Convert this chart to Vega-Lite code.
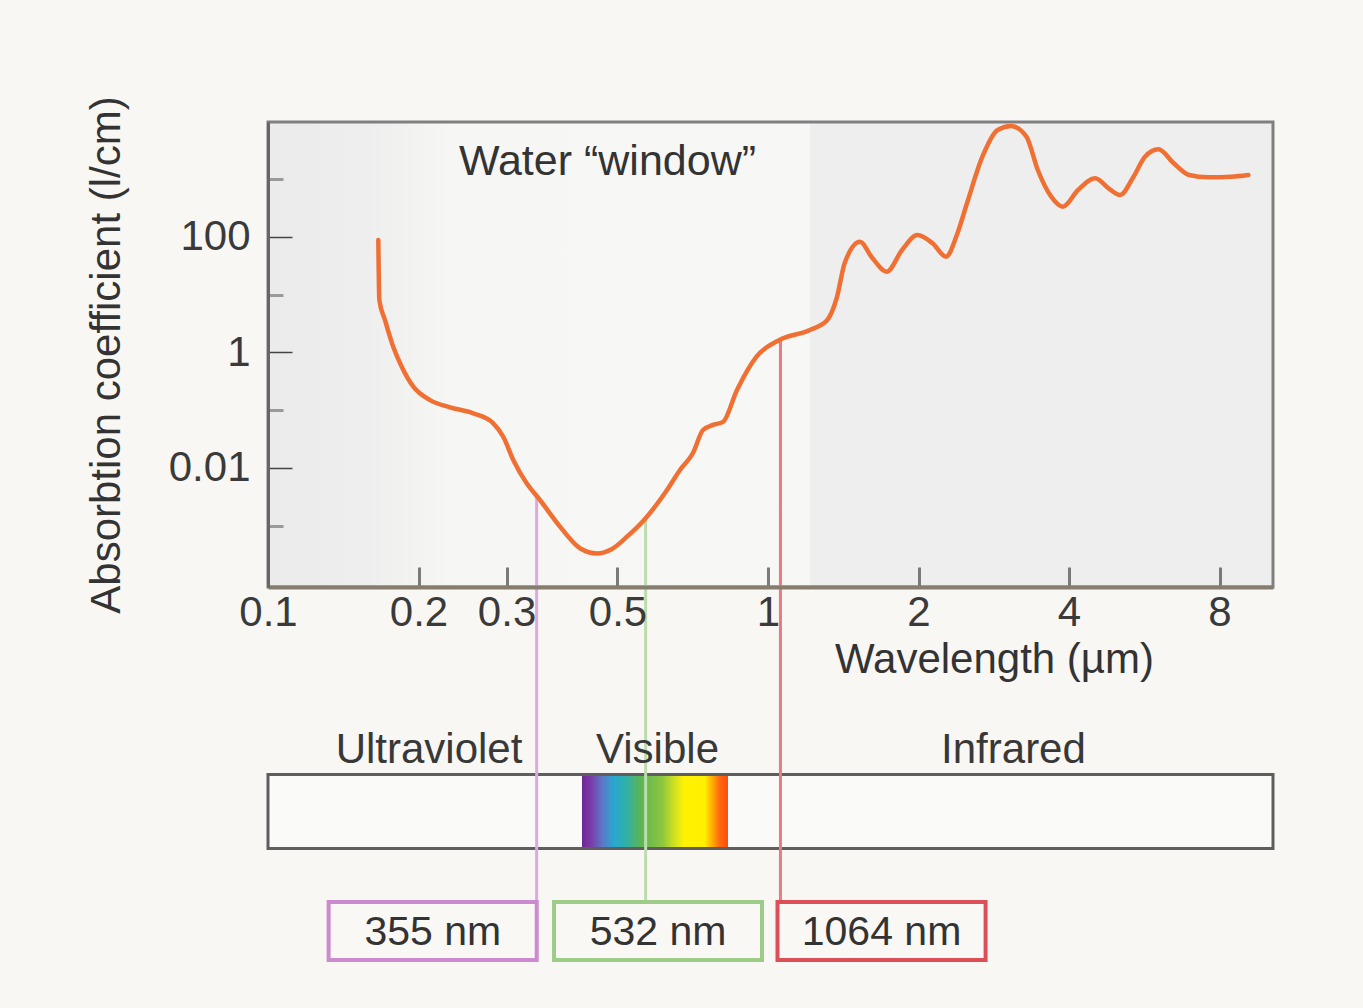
{
  "$schema": "https://vega.github.io/schema/vega-lite/v6.json",
  "width": 1005,
  "height": 465,
  "autosize": "none",
  "padding": {"left": 268, "top": 122, "right": 90, "bottom": 421},
  "background": "#f9f7f3",
  "view": {"fill": "#eeeeef", "stroke": null},
  "config": {"font": "Liberation Sans"},
  "datasets": {
    "absorption": [
      {"wavelength": 0.1662, "coefficient": 88.8},
      {"wavelength": 0.1670, "coefficient": 8.11},
      {"wavelength": 0.1714, "coefficient": 3.65},
      {"wavelength": 0.1780, "coefficient": 1.26},
      {"wavelength": 0.1851, "coefficient": 0.568},
      {"wavelength": 0.1953, "coefficient": 0.256},
      {"wavelength": 0.2109, "coefficient": 0.150},
      {"wavelength": 0.2312, "coefficient": 0.1125},
      {"wavelength": 0.2574, "coefficient": 0.0885},
      {"wavelength": 0.2822, "coefficient": 0.0594},
      {"wavelength": 0.2955, "coefficient": 0.0348},
      {"wavelength": 0.3094, "coefficient": 0.01376},
      {"wavelength": 0.3291, "coefficient": 0.00543},
      {"wavelength": 0.3499, "coefficient": 0.00279},
      {"wavelength": 0.3837, "coefficient": 0.000964},
      {"wavelength": 0.4207, "coefficient": 0.000407},
      {"wavelength": 0.4550, "coefficient": 0.000331},
      {"wavelength": 0.4875, "coefficient": 0.000396},
      {"wavelength": 0.5224, "coefficient": 0.000646},
      {"wavelength": 0.5675, "coefficient": 0.00131},
      {"wavelength": 0.6281, "coefficient": 0.00416},
      {"wavelength": 0.6668, "coefficient": 0.00923},
      {"wavelength": 0.7079, "coefficient": 0.0182},
      {"wavelength": 0.7413, "coefficient": 0.0455},
      {"wavelength": 0.7762, "coefficient": 0.0556},
      {"wavelength": 0.8128, "coefficient": 0.0627},
      {"wavelength": 0.8670, "coefficient": 0.224},
      {"wavelength": 0.9484, "coefficient": 0.846},
      {"wavelength": 1.054, "coefficient": 1.646},
      {"wavelength": 1.213, "coefficient": 2.45},
      {"wavelength": 1.314, "coefficient": 3.65},
      {"wavelength": 1.374, "coefficient": 9.14},
      {"wavelength": 1.423, "coefficient": 35.0},
      {"wavelength": 1.528, "coefficient": 82.9},
      {"wavelength": 1.610, "coefficient": 45.6},
      {"wavelength": 1.728, "coefficient": 25.1},
      {"wavelength": 1.854, "coefficient": 59.6},
      {"wavelength": 1.989, "coefficient": 108},
      {"wavelength": 2.134, "coefficient": 77.8},
      {"wavelength": 2.270, "coefficient": 45.6},
      {"wavelength": 2.393, "coefficient": 116},
      {"wavelength": 2.500, "coefficient": 383},
      {"wavelength": 2.684, "coefficient": 2456},
      {"wavelength": 2.879, "coefficient": 7127},
      {"wavelength": 3.062, "coefficient": 8360},
      {"wavelength": 3.287, "coefficient": 5458},
      {"wavelength": 3.464, "coefficient": 1445},
      {"wavelength": 3.685, "coefficient": 499},
      {"wavelength": 3.886, "coefficient": 335},
      {"wavelength": 4.169, "coefficient": 651},
      {"wavelength": 4.512, "coefficient": 1038},
      {"wavelength": 4.799, "coefficient": 697},
      {"wavelength": 5.061, "coefficient": 533},
      {"wavelength": 5.383, "coefficient": 1107},
      {"wavelength": 5.675, "coefficient": 2456},
      {"wavelength": 6.037, "coefficient": 3300},
      {"wavelength": 6.478, "coefficient": 1889},
      {"wavelength": 6.950, "coefficient": 1185},
      {"wavelength": 7.591, "coefficient": 1081},
      {"wavelength": 8.438, "coefficient": 1107},
      {"wavelength": 9.134, "coefficient": 1185}
    ],
    "lasers": [
      {"label": "355 nm", "line": 0.3446, "top": 0.0033, "from": 0.1322, "to": 0.3447, "center": 0.2136},
      {"label": "532 nm", "line": 0.5692, "top": 0.00134, "from": 0.3733, "to": 0.9727, "center": 0.6026},
      {"label": "1064 nm", "line": 1.059, "top": 1.66, "from": 1.0447, "to": 2.724, "center": 1.6866}
    ],
    "bands": [
      {"band": "Ultraviolet", "center": 0.2099},
      {"band": "Visible", "center": 0.6012},
      {"band": "Infrared", "center": 3.097}
    ]
  },
  "layer": [
    {
      "data": {"values": [{}]},
      "mark": {"type": "rect", "fill": {"gradient": "linear", "x1": 0, "y1": 0, "x2": 1, "y2": 0, "stops": [
        {"offset": 0, "color": "#ebebec"},
        {"offset": 0.18, "color": "#eeeeee"},
        {"offset": 0.34, "color": "#f6f6f4"},
        {"offset": 1, "color": "#f7f7f5"}]}},
      "encoding": {
        "x": {"datum": 0.1, "type": "quantitative", "scale": {"type": "log", "domain": [0.1, 10.233], "nice": false}, "axis": null},
        "x2": {"datum": 1.213},
        "y": {"datum": 0.0000869, "type": "quantitative", "scale": {"type": "log", "domain": [0.0000869, 9795], "nice": false},
          "axis": {"orient": "left", "values": [1000, 10, 0.1, 0.001], "tickSize": -15, "tickWidth": 3, "tickColor": "#9a9a9a", "labels": false, "domain": false, "title": null, "grid": false, "zindex": 1}},
        "y2": {"datum": 9795}
      }
    },
    {
      "data": {"values": [{}]},
      "mark": {"type": "rect", "filled": false, "stroke": "#808080", "strokeWidth": 3},
      "encoding": {
        "x": {"datum": 0.1, "type": "quantitative", "scale": {"type": "log", "domain": [0.1, 10.233], "nice": false}, "axis": null},
        "x2": {"datum": 10.233},
        "y": {"datum": 0.0000869, "type": "quantitative", "scale": {"type": "log", "domain": [0.0000869, 9795], "nice": false}, "axis": null},
        "y2": {"datum": 9795}
      }
    },
    {
      "data": {"values": [{}]},
      "mark": {"type": "rect", "fill": "#fafaf9"},
      "encoding": {
        "x": {"datum": 0.1, "type": "quantitative", "scale": {"type": "log", "domain": [0.1, 10.233], "nice": false}, "axis": null},
        "x2": {"datum": 10.233},
        "y": {"datum": 4.93e-8, "type": "quantitative", "scale": {"type": "log", "domain": [0.0000869, 9795], "nice": false}, "axis": null},
        "y2": {"datum": 2.58e-9}
      }
    },
    {
      "data": {"values": [{}]},
      "mark": {"type": "rect", "fill": {"gradient": "linear", "x1": 0, "y1": 0, "x2": 1, "y2": 0, "stops": [
        {"offset": 0, "color": "#6f2896"},
        {"offset": 0.06, "color": "#7b3aa8"},
        {"offset": 0.14, "color": "#5a78c8"},
        {"offset": 0.22, "color": "#28a8d0"},
        {"offset": 0.3, "color": "#2eb0a8"},
        {"offset": 0.4, "color": "#5cb455"},
        {"offset": 0.55, "color": "#8cc63e"},
        {"offset": 0.64, "color": "#d6e21e"},
        {"offset": 0.7, "color": "#fff200"},
        {"offset": 0.84, "color": "#fff000"},
        {"offset": 0.89, "color": "#ffb000"},
        {"offset": 0.94, "color": "#ff6a10"},
        {"offset": 1, "color": "#ff4a10"}]}},
      "encoding": {
        "x": {"datum": 0.4246, "type": "quantitative", "scale": {"type": "log", "domain": [0.1, 10.233], "nice": false}, "axis": null},
        "x2": {"datum": 0.8318},
        "y": {"datum": 4.93e-8, "type": "quantitative", "scale": {"type": "log", "domain": [0.0000869, 9795], "nice": false}, "axis": null},
        "y2": {"datum": 2.58e-9}
      }
    },
    {
      "data": {"values": [{}]},
      "mark": {"type": "rect", "filled": false, "stroke": "#5e5e5e", "strokeWidth": 3},
      "encoding": {
        "x": {"datum": 0.1, "type": "quantitative", "scale": {"type": "log", "domain": [0.1, 10.233], "nice": false}, "axis": null},
        "x2": {"datum": 10.233},
        "y": {"datum": 4.93e-8, "type": "quantitative", "scale": {"type": "log", "domain": [0.0000869, 9795], "nice": false}, "axis": null},
        "y2": {"datum": 2.58e-9}
      }
    },
    {
      "data": {"name": "lasers"},
      "mark": {"type": "rule", "strokeWidth": 3},
      "encoding": {
        "x": {"field": "line", "type": "quantitative", "scale": {"type": "log", "domain": [0.1, 10.233], "nice": false}, "axis": null},
        "y": {"field": "top", "type": "quantitative", "scale": {"type": "log", "domain": [0.0000869, 9795], "nice": false}, "axis": null},
        "y2": {"datum": 3.05e-10},
        "color": {"field": "label", "type": "nominal", "scale": {"domain": ["355 nm", "532 nm", "1064 nm"], "range": ["#dba9dc", "#bddcae", "#e67c81"]}, "legend": null}
      }
    },
    {
      "data": {"name": "absorption"},
      "mark": {"type": "line", "color": "#ef7032", "strokeWidth": 4.5, "interpolate": "monotone", "strokeCap": "round"},
      "encoding": {
        "x": {"field": "wavelength", "type": "quantitative", "scale": {"type": "log", "domain": [0.1, 10.233], "nice": false},
          "axis": {"values": [0.1, 0.2, 0.3, 0.5, 1, 2, 4, 8], "format": "~g", "tickSize": -20, "tickWidth": 3, "tickColor": "#7a7a7a",
            "labelPadding": 25, "labelFontSize": 42, "labelColor": "#3a3a3a", "labelFlush": false, "labelOverlap": false,
            "domainColor": "#857d6e", "domainWidth": 4, "grid": false, "zindex": 1,
            "title": "Wavelength (µm)", "titleFontSize": 42, "titleFontWeight": "normal", "titleColor": "#333333", "titleX": 726, "titleY": 52}},
        "y": {"field": "coefficient", "type": "quantitative", "scale": {"type": "log", "domain": [0.0000869, 9795], "nice": false},
          "axis": {"orient": "left", "values": [100, 1, 0.01], "format": "~g", "tickSize": -24, "tickWidth": 1.5, "tickColor": "#444444",
            "labelPadding": 42, "labelFontSize": 42, "labelColor": "#3a3a3a", "domainColor": "#666666", "domainWidth": 3, "grid": false, "zindex": 1,
            "title": "Absorbtion coefficient (l/cm)", "titleFontSize": 42, "titleFontWeight": "normal", "titleColor": "#333333", "titlePadding": 40}}
      }
    },
    {
      "data": {"values": [{}]},
      "mark": {"type": "text", "text": "Water “window”", "fontSize": 43, "color": "#333333", "baseline": "alphabetic"},
      "encoding": {
        "x": {"datum": 0.4775, "type": "quantitative", "scale": {"type": "log", "domain": [0.1, 10.233], "nice": false}, "axis": null},
        "y": {"datum": 1185, "type": "quantitative", "scale": {"type": "log", "domain": [0.0000869, 9795], "nice": false}, "axis": null}
      }
    },
    {
      "data": {"name": "bands"},
      "mark": {"type": "text", "fontSize": 42, "color": "#383838", "baseline": "alphabetic"},
      "encoding": {
        "x": {"field": "center", "type": "quantitative", "scale": {"type": "log", "domain": [0.1, 10.233], "nice": false}, "axis": null},
        "y": {"datum": 7.8e-8, "type": "quantitative", "scale": {"type": "log", "domain": [0.0000869, 9795], "nice": false}, "axis": null},
        "text": {"field": "band"}
      }
    },
    {
      "data": {"name": "lasers"},
      "mark": {"type": "rect", "fill": "#faf8f5", "strokeWidth": 4},
      "encoding": {
        "x": {"field": "from", "type": "quantitative", "scale": {"type": "log", "domain": [0.1, 10.233], "nice": false}, "axis": null},
        "x2": {"field": "to"},
        "y": {"datum": 3.05e-10, "type": "quantitative", "scale": {"type": "log", "domain": [0.0000869, 9795], "nice": false}, "axis": null},
        "y2": {"datum": 3.02e-11},
        "stroke": {"field": "label", "type": "nominal", "scale": {"domain": ["355 nm", "532 nm", "1064 nm"], "range": ["#cd8bcf", "#9dcc89", "#de4e57"]}, "legend": null}
      }
    },
    {
      "data": {"name": "lasers"},
      "mark": {"type": "text", "fontSize": 41, "color": "#333333", "baseline": "alphabetic"},
      "encoding": {
        "x": {"field": "center", "type": "quantitative", "scale": {"type": "log", "domain": [0.1, 10.233], "nice": false}, "axis": null},
        "y": {"datum": 5.5e-11, "type": "quantitative", "scale": {"type": "log", "domain": [0.0000869, 9795], "nice": false}, "axis": null},
        "text": {"field": "label"}
      }
    }
  ],
  "resolve": {"axis": {"x": "independent", "y": "independent"}}
}
